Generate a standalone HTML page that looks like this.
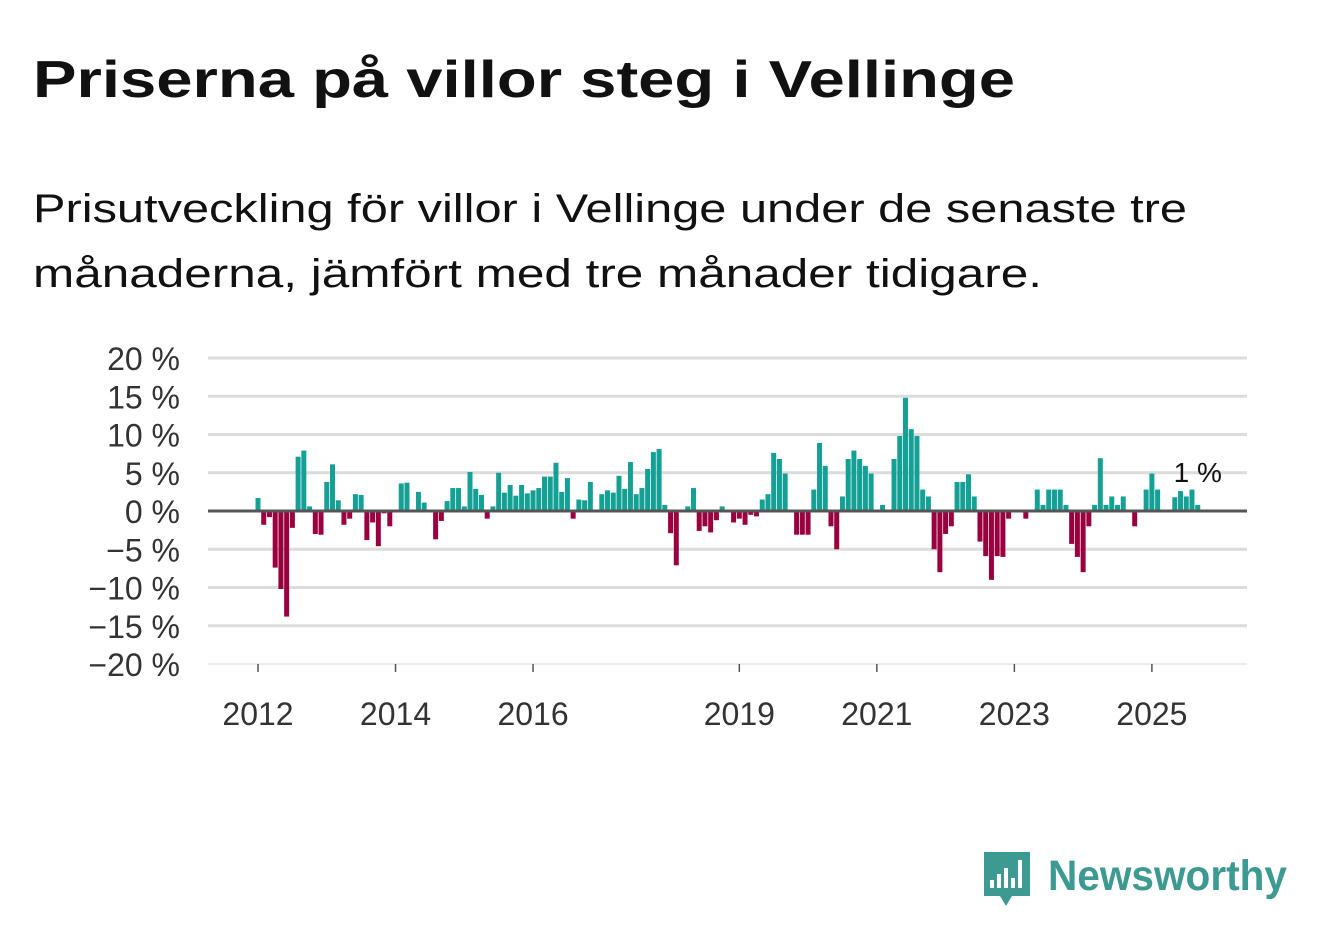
<!DOCTYPE html>
<html><head><meta charset="utf-8"><style>
body{margin:0;background:#fff}
svg{display:block;font-family:"Liberation Sans",sans-serif}
</style></head><body>
<svg id="chart" width="1322" height="939" viewBox="0 0 1322 939">
<rect width="1322" height="939" fill="#fff"/>
<text x="33" y="97" font-size="52" font-weight="bold" fill="#111" textLength="982" lengthAdjust="spacingAndGlyphs">Priserna på villor steg i Vellinge</text>
<text x="33" y="222" font-size="40" fill="#111" textLength="1154" lengthAdjust="spacingAndGlyphs">Prisutveckling för villor i Vellinge under de senaste tre</text>
<text x="33" y="287" font-size="40" fill="#111" textLength="1009" lengthAdjust="spacingAndGlyphs">månaderna, jämfört med tre månader tidigare.</text>
<g id="grid"></g><g id="bars"></g><g id="axes"></g>
<g>
<path d="M984 852 h46 v44 h-18 l-6 10 l-6 -10 h-16 z" fill="#3d9a92"/>
<rect x="990" y="880" width="4" height="8" fill="#fff"/><rect x="997" y="874" width="4" height="14" fill="#fff"/>
<rect x="1004" y="868" width="4" height="20" fill="#fff"/><rect x="1011" y="878" width="4" height="10" fill="#fff"/>
<rect x="1018" y="860" width="4" height="28" fill="#fff"/>
<text x="1048" y="890" font-size="43" font-weight="bold" fill="#3d9a92" textLength="239" lengthAdjust="spacingAndGlyphs">Newsworthy</text>
</g>
</svg>
<script>
const values=[1.7,-1.8,-0.8,-7.4,-10.2,-13.8,-2.2,7.1,7.9,0.6,-3,-3.1,3.8,6.1,1.4,-1.8,-1,2.2,2.1,-3.8,-1.5,-4.6,-0.3,-2,0,3.6,3.7,0.2,2.5,1.1,0,-3.7,-1.3,1.3,3,3,0.6,5.1,2.9,2.1,-1,0.6,5,2.4,3.4,2,3.4,2.3,2.7,3,4.5,4.5,6.3,2.5,4.3,-1,1.5,1.4,3.8,0,2.2,2.7,2.4,4.6,2.9,6.4,2.2,3,5.5,7.7,8.1,0.8,-2.9,-7.1,0,0.6,3,-2.6,-2,-2.8,-1.2,0.6,0,-1.5,-1,-1.8,-0.5,-0.7,1.5,2.2,7.6,6.8,4.9,0,-3.1,-3.1,-3.1,2.8,8.9,5.9,-2,-5,1.9,6.8,7.9,6.8,5.9,4.9,0,0.8,0,6.8,9.8,14.8,10.7,9.8,2.8,1.9,-5,-8,-3,-2,3.8,3.8,4.8,1.9,-4,-5.9,-9,-5.9,-6,-1,0,0,-1,0,2.8,0.8,2.8,2.8,2.8,0.8,-4.3,-6,-8,-2,0.8,6.9,0.8,1.9,0.8,1.9,0,-2,0,2.8,4.9,2.8,0,0,1.8,2.6,1.9,2.8,0.8];
const startYear=2012;
const yTicks=[20,15,10,5,0,-5,-10,-15,-20];
const yTickLabels=["20 %","15 %","10 %","5 %","0 %","−5 %","−10 %","−15 %","−20 %"];
const xTickYears=[2012,2014,2016,2019,2021,2023,2025];
const lastLabel="1 %";
const NS="http://www.w3.org/2000/svg";
const X0=208,X1=1247;
function y(v){return 511-v*7.65;}
function x(i){return 258+i*5.73;}
function xYear(yr){return x((yr-startYear)*12);}
function mk(t,a,p){const e=document.createElementNS(NS,t);for(const k in a)e.setAttribute(k,a[k]);p.appendChild(e);return e;}
const grid=document.getElementById('grid'),bars=document.getElementById('bars'),axes=document.getElementById('axes');
yTicks.forEach((t,k)=>{
  if(t!==0){const l=mk('line',{x1:X0,x2:X1,y1:y(t),y2:y(t),stroke:t===-20?'#e6e6e6':'#dcdcdc','stroke-width':t===-20?1.5:3},grid);
  
  }
  const tx=mk('text',{x:180,y:y(t)+12,'font-size':32,fill:'#333','text-anchor':'end'},axes);
  tx.textContent=yTickLabels[k];
  
  
});
values.forEach((v,i)=>{
  if(v===0)return;
  const r=mk('rect',{x:x(i)-2.5,width:5,y:Math.min(y(v),y(0)),height:Math.abs(y(v)-y(0)),fill:v>0?'#15a096':'#9a0040'},bars);
  
  
});
const z=mk('line',{x1:X0,x2:X1,y1:y(0),y2:y(0),stroke:'#555','stroke-width':3},axes);


xTickYears.forEach(yr=>{
  const tk=mk('line',{x1:xYear(yr),x2:xYear(yr),y1:664,y2:672,stroke:'#555','stroke-width':1.5},axes);
  
  
  const tx=mk('text',{x:xYear(yr),y:725,'font-size':32,fill:'#333','text-anchor':'middle'},axes);
  tx.textContent=yr;
  
  
});
const li=values.length-1;
const lb=mk('text',{x:x(li),y:482,'font-size':28,fill:'#111','text-anchor':'middle'},axes);
lb.textContent=lastLabel;


</script>
</body></html>
